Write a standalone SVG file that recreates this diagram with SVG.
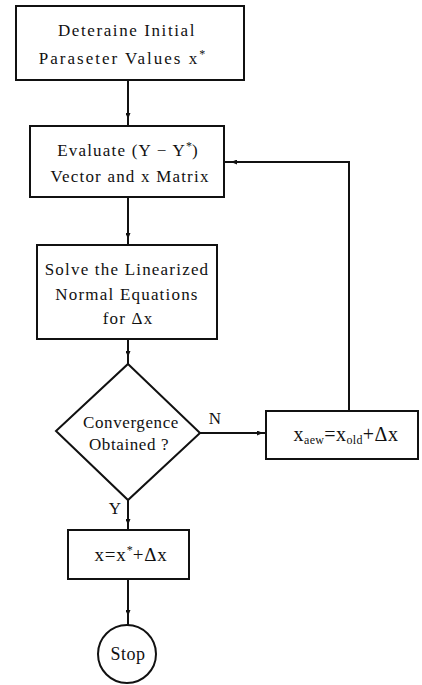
<svg xmlns="http://www.w3.org/2000/svg" width="422" height="685" viewBox="0 0 422 685">
<style>
.box{fill:#fff;stroke:#111;stroke-width:2}
.ln{fill:none;stroke:#111;stroke-width:2}
text{font-family:"Liberation Serif","Times New Roman",serif;font-size:17px;fill:#111;text-anchor:middle;letter-spacing:1.2px}
.sub{font-size:12px;letter-spacing:0.3px}
.sup{font-size:12px;letter-spacing:0}
</style>
<defs>
<marker id="ah" markerWidth="6" markerHeight="5" refX="5" refY="2.5" orient="auto" markerUnits="userSpaceOnUse">
<path d="M0,0 L6,2.5 L0,5 Z" fill="#111"/>
</marker>
</defs>
<g id="connectors">
<path class="ln" d="M128,80 V118" marker-end="url(#ah)"/>
<path class="ln" d="M128,118 V126"/>
<path class="ln" d="M128,197 V238" marker-end="url(#ah)"/>
<path class="ln" d="M128,238 V245"/>
<path class="ln" d="M128,339 V356" marker-end="url(#ah)"/>
<path class="ln" d="M128,356 V364"/>
<path class="ln" d="M128,500 V524" marker-end="url(#ah)"/>
<path class="ln" d="M128,524 V530"/>
<path class="ln" d="M128,579 V615" marker-end="url(#ah)"/>
<path class="ln" d="M128,615 V625"/>
<path class="ln" d="M200,433 H262" marker-end="url(#ah)"/>
<path class="ln" d="M262,433 H266"/>
<path class="ln" d="M349,411 V162 H232" marker-end="url(#ah)"/>
<path class="ln" d="M232,162 H224"/>
<text x="215" y="424" style="letter-spacing:0">N</text>
<text x="115" y="514" style="letter-spacing:0">Y</text>
</g>
<g id="n1">
<rect class="box" x="16" y="6" width="228" height="74"/>
<text x="127" y="36" style="letter-spacing:1.6px">Deteraine Initial</text>
<text x="122" y="64" style="letter-spacing:2px">Paraseter Values x<tspan class="sup" dy="-6">*</tspan></text>
</g>
<g id="n2">
<rect class="box" x="30" y="126" width="194" height="71"/>
<text x="128" y="156">Evaluate (Y − Y<tspan class="sup" dy="-6">*</tspan><tspan dy="6">)</tspan></text>
<text x="130" y="182">Vector and x Matrix</text>
</g>
<g id="n3">
<rect class="box" x="37" y="245" width="180" height="94"/>
<text x="127" y="275">Solve the Linearized</text>
<text x="127" y="300">Normal Equations</text>
<text x="128" y="324">for Δx</text>
</g>
<g id="n4">
<path class="box" d="M128,364 L200,433 L128,500 L56,431 Z"/>
<text x="131" y="428" style="letter-spacing:0.6px">Convergence</text>
<text x="129" y="450" style="letter-spacing:0.6px">Obtained ?</text>
</g>
<g id="n5">
<rect class="box" x="266" y="411" width="152" height="48"/>
<text x="346" y="441" style="font-size:20px;letter-spacing:0.5px">x<tspan class="sub" dy="3">aew</tspan><tspan dy="-3">=x</tspan><tspan class="sub" dy="3">old</tspan><tspan dy="-3">+Δx</tspan></text>
</g>
<g id="n6">
<rect class="box" x="68" y="530" width="121" height="49"/>
<text x="131" y="561" style="font-size:19px;letter-spacing:0.8px">x=x<tspan class="sup" dy="-7">*</tspan><tspan dy="7">+Δx</tspan></text>
</g>
<g id="n7">
<circle class="box" cx="127" cy="654" r="29"/>
<text x="128" y="660" style="font-size:18px;letter-spacing:0.5px">Stop</text>
</g>
</svg>
